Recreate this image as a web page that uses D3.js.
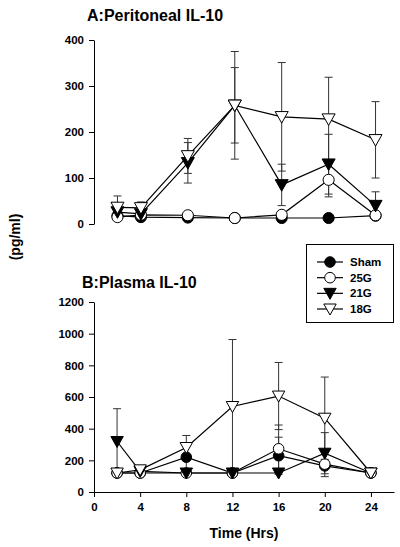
<!DOCTYPE html>
<html><head><meta charset="utf-8">
<script src="https://cdn.jsdelivr.net/npm/d3@7"></script>
<style>
body{margin:0;background:#fff;}
text{font-family:"Liberation Sans",Arial,sans-serif;font-weight:bold;fill:#000;}
</style></head>
<body><svg id="c" width="400" height="547"></svg>
<script>
const hours = [2, 4, 8, 12, 16, 20, 24];
const xTicks = [0, 4, 8, 12, 16, 20, 24];
const seriesNames = ["Sham", "25G", "21G", "18G"];
const topTicks = [0, 100, 200, 300, 400];
const bottomTicks = [0, 200, 400, 600, 800, 1000, 1200];

// A: Peritoneal IL-10 (pg/ml)
const periSham = [18, 15, 14, 13, 13, 13, 18];
const peri25G  = [15, 20, 19, 13, 20, 96, 19];
const peri21G  = [26, 22, 133, 258, 85, 130, 40];
const peri18G  = [36, 35, 148, 258, 233, 228, 183];
const periShamErr = [0, 0, 0, 0, 0, 0, 0];
const peri25GErr  = [0, 0, 0, 0, 0, 37, 0];
const peri21GErr  = [0, 0, 44, 82, 45, 65, 30];
const peri18GErr  = [25, 13, 38, 117, 118, 91, 83];

// B: Plasma IL-10 (pg/ml)
const plasSham = [120, 120, 220, 120, 229, 165, 120];
const plas25G  = [120, 120, 120, 120, 273, 176, 120];
const plas21G  = [319, 130, 120, 120, 120, 245, 120];
const plas18G  = [120, 140, 281, 540, 606, 466, 120];
const plasShamErr = [0, 0, 80, 0, 117, 0, 0];
const plas25GErr  = [0, 0, 0, 0, 150, 79, 0];
const plas21GErr  = [207, 0, 0, 0, 0, 130, 0];
const plas18GErr  = [0, 20, 76, 423, 212, 260, 0];

const svg = d3.select("#c");

const styles = {
  "Sham": {shape: "circle", fill: "#000"},
  "25G":  {shape: "circle", fill: "#fff"},
  "21G":  {shape: "tri", fill: "#000"},
  "18G":  {shape: "tri", fill: "#fff"}
};

function marker(g, name, x, y, s) {
  const st = styles[name];
  if (st.shape === "circle") {
    g.append("circle").attr("cx", x).attr("cy", y).attr("r", 5.3 * s)
      .attr("fill", st.fill).attr("stroke", "#000").attr("stroke-width", 1);
  } else {
    const w = 6.2 * s, h1 = 5 * s, h2 = 6 * s;
    g.append("path")
      .attr("d", `M${x - w},${y - h1}L${x + w},${y - h1}L${x},${y + h2}Z`)
      .attr("fill", st.fill).attr("stroke", "#000").attr("stroke-width", 1);
  }
}

function panel(cfg) {
  const g = svg.append("g");
  const x = d3.scaleLinear().domain([0, 26]).range(cfg.xRange);
  const y = d3.scaleLinear().domain([0, cfg.yMax]).range(cfg.yRange);

  const yAxis = g.append("g").attr("transform", `translate(${cfg.xRange[0]},0)`)
    .call(d3.axisLeft(y).tickValues(cfg.yTicks).tickFormat(d3.format("d"))
      .tickSize(5).tickSizeOuter(0).tickPadding(5));
  yAxis.selectAll("text").style("font-size", "11.5px");
  yAxis.selectAll("line,path").attr("stroke", "#000");

  if (cfg.showX) {
    const xAxis = g.append("g").attr("transform", `translate(0,${cfg.yRange[0]})`)
      .call(d3.axisBottom(x).tickValues(xTicks).tickFormat(d3.format("d"))
        .tickSize(5).tickSizeOuter(0).tickPadding(6));
    xAxis.selectAll("text").style("font-size", "11.5px");
    xAxis.selectAll("line,path").attr("stroke", "#000");
  }

  g.append("text").attr("x", cfg.titleX).attr("y", cfg.titleY)
    .style("font-size", "16px").text(cfg.title);

  // error bars
  cfg.series.forEach(s => {
    s.values.forEach((v, i) => {
      const e = s.err[i];
      if (!e) return;
      const cx = x(hours[i]);
      const y1 = y(v + e), y2 = y(Math.max(0, v - e));
      g.append("line").attr("x1", cx).attr("x2", cx).attr("y1", y1).attr("y2", y2)
        .attr("stroke", "#333").attr("stroke-width", 1);
      [y1, y2].forEach(yy => g.append("line").attr("x1", cx - 4).attr("x2", cx + 4)
        .attr("y1", yy).attr("y2", yy).attr("stroke", "#333").attr("stroke-width", 1));
    });
  });
  // lines
  const line = d3.line().x((d, i) => x(hours[i])).y(d => y(d));
  cfg.series.forEach(s => {
    g.append("path").attr("d", line(s.values)).attr("fill", "none")
      .attr("stroke", "#000").attr("stroke-width", 1.2);
  });
  // markers
  cfg.series.forEach(s => {
    s.values.forEach((v, i) => marker(g, s.name, x(hours[i]), y(v), cfg.ms));
  });
}

panel({
  title: "A:Peritoneal IL-10", titleX: 87, titleY: 21,
  xRange: [94, 399], yRange: [224, 40], yMax: 400, yTicks: topTicks, showX: false, ms: 1.05,
  series: [
    {name: "Sham", values: periSham, err: periShamErr},
    {name: "25G", values: peri25G, err: peri25GErr},
    {name: "21G", values: peri21G, err: peri21GErr},
    {name: "18G", values: peri18G, err: peri18GErr}
  ]
});

panel({
  title: "B:Plasma IL-10", titleX: 82, titleY: 288,
  xRange: [94, 394], yRange: [492, 302], yMax: 1200, yTicks: bottomTicks, showX: true, ms: 1.0,
  series: [
    {name: "Sham", values: plasSham, err: plasShamErr},
    {name: "25G", values: plas25G, err: plas25GErr},
    {name: "21G", values: plas21G, err: plas21GErr},
    {name: "18G", values: plas18G, err: plas18GErr}
  ]
});

// axis titles
svg.append("text").attr("transform", "translate(20,237) rotate(-90)")
  .attr("text-anchor", "middle").style("font-size", "14px").text("(pg/ml)");
svg.append("text").attr("x", 244).attr("y", 538)
  .attr("text-anchor", "middle").style("font-size", "14px").text("Time (Hrs)");

// legend
const lg = svg.append("g");
lg.append("rect").attr("x", 306.5).attr("y", 244.5).attr("width", 87).attr("height", 78)
  .attr("fill", "#fff").attr("stroke", "#000").attr("stroke-width", 1);
const legY = d3.scalePoint().domain(seriesNames).range([262, 309]);
seriesNames.forEach(n => {
  const yy = legY(n);
  lg.append("line").attr("x1", 317).attr("x2", 343).attr("y1", yy).attr("y2", yy)
    .attr("stroke", "#000").attr("stroke-width", 1.2);
  marker(lg, n, 330, yy, 1.0);
  lg.append("text").attr("x", 350).attr("y", yy + 4).style("font-size", "11.5px").text(n);
});
</script></body></html>
